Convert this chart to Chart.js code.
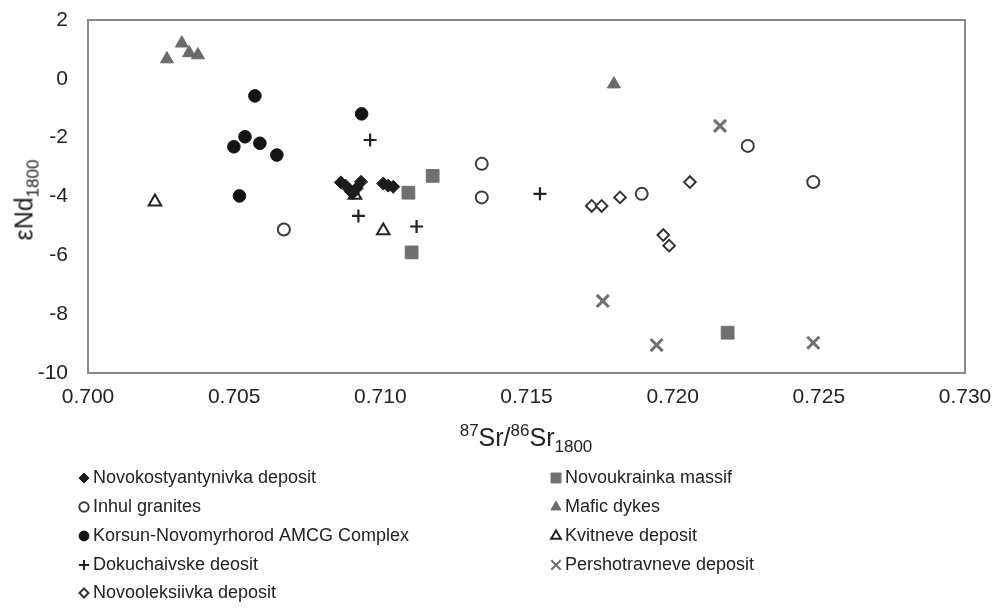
<!DOCTYPE html>
<html>
<head>
<meta charset="utf-8">
<script src="https://cdn.jsdelivr.net/npm/chart.js@4.4.1/dist/chart.umd.min.js"></script>
<style>
  body { margin: 0; background: #fff; }
  #wrap { position: relative; width: 994px; height: 608px; font-family: "Liberation Sans", Arial, sans-serif; color: #222; }
  #chart { position: absolute; left: 0; top: 0; }
  .ttl { position: absolute; font-size: 25px; line-height: 1; white-space: nowrap; transform: translate(-50%, -50%); }
  .ttl sup, .ttl sub { font-size: 0.68em; line-height: 0; }
  #xTitle { left: 526px; top: 437px; }
  #yTitle { left: 24px; top: 200px; transform: translate(-50%, -50%) rotate(-90deg); }
</style>
</head>
<body>
<div id="wrap">
  <canvas id="chart" width="994" height="608"></canvas>
  <div class="ttl" id="xTitle"><sup>87</sup>Sr/<sup>86</sup>Sr<sub>1800</sub></div>
  <div class="ttl" id="yTitle">εNd<sub>1800</sub></div>
</div>
<script>
// tick labels
const xTicks = [0.700, 0.705, 0.710, 0.715, 0.720, 0.725, 0.730];
const yTicks = [2, 0, -2, -4, -6, -8, -10];

// series names
const seriesNames = [
  'Novokostyantynivka deposit', 'Inhul granites', 'Korsun-Novomyrhorod AMCG Complex',
  'Dokuchaivske deosit', 'Novooleksiivka deposit', 'Novoukrainka massif',
  'Mafic dykes', 'Kvitneve deposit', 'Pershotravneve deposit'
];

// 87Sr/86Sr (x) and eNd (y) per series
const novokostX = [0.70865, 0.70881, 0.70900, 0.70919, 0.70934, 0.70906, 0.71010, 0.71027, 0.71044];
const novokostY = [-3.52, -3.63, -3.84, -3.72, -3.50, -3.88, -3.56, -3.63, -3.67];
const inhulX = [0.70670, 0.71347, 0.71347, 0.71894, 0.72257, 0.72481];
const inhulY = [-5.12, -2.89, -4.03, -3.91, -2.28, -3.51];
const korsunX = [0.70571, 0.70537, 0.70499, 0.70588, 0.70646, 0.70518, 0.70936];
const korsunY = [-0.58, -1.97, -2.31, -2.19, -2.59, -3.98, -1.19];
const dokuchX = [0.70965, 0.70925, 0.71124, 0.71546];
const dokuchY = [-2.08, -4.66, -5.02, -3.91];
const novoolX = [0.71723, 0.71757, 0.71820, 0.72059, 0.71968, 0.71988];
const novoolY = [-4.32, -4.32, -4.03, -3.51, -5.31, -5.67];
const novoukrX = [0.71179, 0.71096, 0.71107, 0.72188];
const novoukrY = [-3.30, -3.87, -5.90, -8.63];
const maficX = [0.70270, 0.70321, 0.70346, 0.70376, 0.71799];
const maficY = [0.67, 1.21, 0.88, 0.81, -0.18];
const kvitX = [0.70229, 0.71010, 0.70913];
const kvitY = [-4.18, -5.16, -3.95];
const pershX = [0.71761, 0.71945, 0.72162, 0.72481];
const pershY = [-7.55, -9.05, -1.60, -8.97];

const xs = [novokostX, inhulX, korsunX, dokuchX, novoolX, novoukrX, maficX, kvitX, pershX];
const ys = [novokostY, inhulY, korsunY, dokuchY, novoolY, novoukrY, maficY, kvitY, pershY];

// marker look per series
const styles = [
  { pointStyle: 'rectRot', radius: 6.5, bg: '#1c1c1c', border: '#1c1c1c', bw: 1 },
  { pointStyle: 'circle', radius: 6, bg: '#fff', border: '#3a3a3a', bw: 2 },
  { pointStyle: 'circle', radius: 6.3, bg: '#141414', border: '#141414', bw: 1 },
  { pointStyle: 'cross', radius: 6.5, bg: '#222', border: '#222', bw: 2.2 },
  { pointStyle: 'rectRot', radius: 5.8, bg: '#fff', border: '#333', bw: 2 },
  { pointStyle: 'rect', radius: 9, bg: '#707070', border: '#707070', bw: 1 },
  { pointStyle: 'triangle', radius: 7.5, bg: '#6a6a6a', border: '#6a6a6a', bw: 1 },
  { pointStyle: 'triangle', radius: 7.2, bg: '#fff', border: '#222', bw: 2 },
  { pointStyle: 'crossRot', radius: 8.5, bg: '#707070', border: '#707070', bw: 3 }
];

const drawOrder = [1, 8, 2, 3, 9, 0, 7, 4, 5];

const datasets = seriesNames.map((name, i) => ({
  label: name,
  data: xs[i].map((x, j) => ({ x: x, y: ys[i][j] })),
  pointStyle: styles[i].pointStyle,
  pointRadius: styles[i].radius,
  backgroundColor: styles[i].bg,
  borderColor: styles[i].border,
  borderWidth: styles[i].bw,
  order: drawOrder[i]
}));

// legend layout: two columns
const legendLeft = [0, 1, 2, 3, 4];
const legendRight = [5, 6, 7, 8];
const legendRows = [478, 507, 536, 565, 593];

const frame = {
  id: 'frame',
  beforeDatasetsDraw(chart) {
    const a = chart.chartArea;
    const ctx = chart.ctx;
    ctx.save();
    ctx.strokeStyle = '#8a8a8a';
    ctx.lineWidth = 2;
    ctx.strokeRect(a.left, a.top, a.right - a.left, a.bottom - a.top);
    ctx.restore();
  }
};

function legendMarker(ctx, st, x, y) {
  ctx.save();
  ctx.fillStyle = st.bg;
  ctx.strokeStyle = st.border;
  ctx.lineWidth = Math.min(st.bw, 2);
  const r = st.radius * 0.78;
  if (Chart.helpers && Chart.helpers.drawPoint) {
    Chart.helpers.drawPoint(ctx, { pointStyle: st.pointStyle, radius: r, rotation: 0, borderWidth: ctx.lineWidth }, x, y);
  }
  ctx.restore();
}

const customLegend = {
  id: 'customLegend',
  afterDraw(chart) {
    const ctx = chart.ctx;
    ctx.save();
    ctx.font = '18px "Liberation Sans", Arial, sans-serif';
    ctx.textBaseline = 'middle';
    legendLeft.forEach((idx, r) => {
      legendMarker(ctx, styles[idx], 84, legendRows[r]);
      ctx.fillStyle = '#222';
      ctx.fillText(seriesNames[idx], 93, legendRows[r]);
    });
    legendRight.forEach((idx, r) => {
      legendMarker(ctx, styles[idx], 556, legendRows[r]);
      ctx.fillStyle = '#222';
      ctx.fillText(seriesNames[idx], 565, legendRows[r]);
    });
    ctx.restore();
  }
};

const tickFont = { family: '"Liberation Sans", Arial, sans-serif', size: 21 };

// keep the plot box fixed: no extra room for overflowing tick labels
function noLabelPadding(scale) {
  scale.paddingLeft = 0;
  scale.paddingRight = 0;
  scale.paddingTop = 0;
  scale.paddingBottom = 0;
}

new Chart(document.getElementById('chart').getContext('2d'), {
  type: 'scatter',
  data: { datasets: datasets },
  options: {
    responsive: false,
    animation: false,
    events: [],
    layout: { padding: { left: 0, top: 20, right: 29, bottom: 195 } },
    plugins: { legend: { display: false }, tooltip: { enabled: false } },
    scales: {
      x: {
        type: 'linear',
        min: 0.7,
        max: 0.73,
        grid: { display: false, drawTicks: false },
        border: { display: false },
        afterFit(scale) { scale.height = 40; noLabelPadding(scale); },
        afterBuildTicks(scale) { scale.ticks = xTicks.map(v => ({ value: v })); },
        ticks: { color: '#222', font: tickFont, padding: 12, maxRotation: 0, autoSkip: false,
                 callback: v => v.toFixed(3) }
      },
      y: {
        min: -10,
        max: 2,
        grid: { display: false, drawTicks: false },
        border: { display: false },
        afterFit(scale) { scale.width = 88; noLabelPadding(scale); },
        afterBuildTicks(scale) { scale.ticks = yTicks.map(v => ({ value: v })); },
        ticks: { color: '#222', font: tickFont, padding: 20, callback: v => String(v) }
      }
    }
  },
  plugins: [frame, customLegend]
});
</script>
</body>
</html>
